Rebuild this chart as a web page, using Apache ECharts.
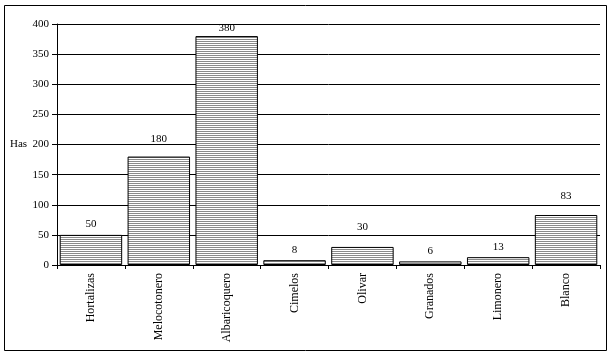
<!DOCTYPE html>
<html><head><meta charset="utf-8">
<script src="https://cdn.jsdelivr.net/npm/echarts@6/dist/echarts.min.js"></script>
<style>html,body{margin:0;padding:0;background:#fff}#c{width:612px;height:356px}</style>
</head><body><div id="c"></div>
<script>
var categories = ['Hortalizas','Melocotonero','Albaricoquero','Cimelos','Olivar','Granados','Limonero','Blanco'];
var values = [50,180,380,8,30,6,13,83];
var yTicks = [0,50,100,150,200,250,300,350,400];

var pc = document.createElement('canvas');
pc.width = 4; pc.height = 2;
var g = pc.getContext('2d');
g.fillStyle = '#ffffff'; g.fillRect(0,0,4,2);
g.fillStyle = '#8a8a8a'; g.fillRect(0,1,4,1);

var lift = {1: 7, 2: -3, 4: 9, 7: 8};
var font = 'Liberation Serif';
var chart = echarts.init(document.getElementById('c'), null, {renderer:'canvas'});
chart.setOption({
  animation: false,
  backgroundColor: '#fff',
  grid: {left: 57, right: 12, top: 24, bottom: 91},
  graphic: [
    {type:'rect', shape:{x:4.5,y:5.5,width:602,height:345}, style:{fill:'none', stroke:'#000', lineWidth:1}, z:-1},
    {type:'text', left: 10, top: 139, style:{text:'Has', font:'11px "Liberation Serif"', fill:'#000'}}
  ],
  xAxis: {
    type: 'category', data: categories,
    axisLine: {lineStyle:{color:'#000', width:1}},
    axisTick: {show:true, length:4, lineStyle:{color:'#000'}},
    axisLabel: {rotate: 90, fontFamily: font, fontSize: 12, color:'#000', margin: 8, interval: 0}
  },
  yAxis: {
    type: 'value', min: yTicks[0], max: yTicks[yTicks.length-1], interval: 50,
    axisLine: {show:true, lineStyle:{color:'#000', width:1}},
    axisTick: {show:true, length:5, lineStyle:{color:'#000'}},
    axisLabel: {fontFamily: font, fontSize: 11, color:'#000', margin: 8},
    splitLine: {show:true, lineStyle:{color:'#000', width:1}}
  },
  series: [{
    type: 'bar',
    barCategoryGap: '8%',
    data: values.map(function(v,i){
      var d = {value: v};
      if (lift[i]) d.label = {distance: 5 + lift[i]};
      return d;
    }),
    itemStyle: {color: {image: pc, repeat: 'repeat'}, borderColor:'#000', borderWidth:1},
    label: {show:true, position:'top', distance:5, fontFamily: font, fontSize: 11, color:'#000'}
  }]
});
</script></body></html>
